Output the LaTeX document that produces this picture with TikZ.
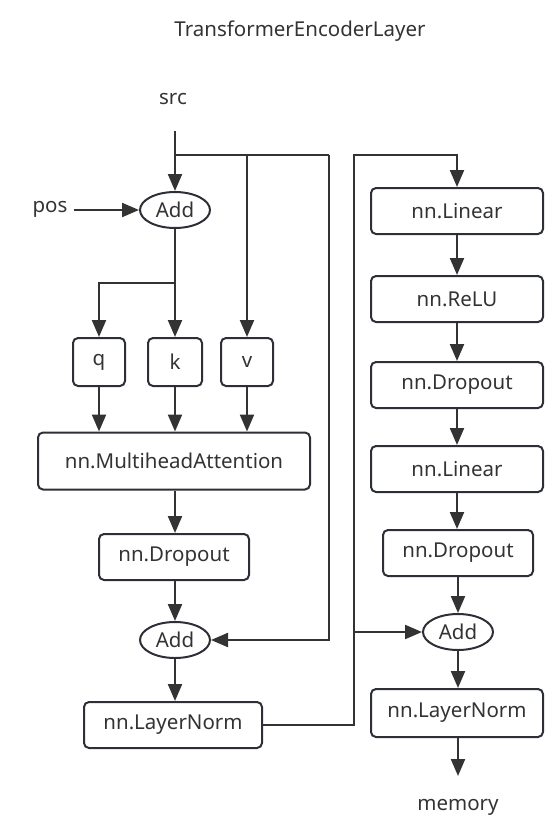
\documentclass[tikz,border=0pt]{standalone}
\usepackage{fontspec}
\setmainfont{Noto Sans}
\usetikzlibrary{arrows.meta,shapes.geometric}
\definecolor{lc}{HTML}{333333}
\definecolor{bc}{HTML}{2C3036}
\begin{document}
\begin{tikzpicture}[x=1pt,y=-1pt,
  txt/.style={text=lc,font=\fontsize{20.5}{23}\selectfont,inner sep=0},
  box/.style={txt,draw=bc,line width=2pt,rounded corners=5pt,minimum width=#1,minimum height=46pt},
  ell/.style={txt,draw=bc,line width=2pt,ellipse,minimum width=70pt,minimum height=36pt},
  arr/.style={draw=lc,line width=2.2pt,-{Triangle[length=17pt,width=14pt]}},
  ln/.style={draw=lc,line width=2.2pt}]
\useasboundingbox (0,0) rectangle (559,828);
% labels
\node[txt] (title) at (300,31) {TransformerEncoderLayer};
\node[txt] (src) at (173,99) {src};
\node[txt] (pos) at (50,209) {pos};
\node[txt] (mem) at (458,807) {memory};
% left column
\node[ell] (add1) at (175,210) {Add};
\node[box=52pt,minimum height=48pt] (q) at (99,362) {q};
\node[box=54pt,minimum height=48pt] (k) at (175,362) {k};
\node[box=52pt,minimum height=48pt] (v) at (247,362) {v};
\node[box=272pt,minimum height=57pt] (mha) at (174,461) {nn.MultiheadAttention};
\node[box=150pt] (do1) at (174,557) {nn.Dropout};
\node[ell] (add2) at (175,640) {Add};
\node[box=178pt] (ln1) at (173,725) {nn.LayerNorm};
% right column
\node[box=172pt] (lin1) at (457,211) {nn.Linear};
\node[box=172pt] (relu) at (457,299) {nn.ReLU};
\node[box=172pt] (do2) at (457,385) {nn.Dropout};
\node[box=172pt] (lin2) at (457,469) {nn.Linear};
\node[box=150pt] (do3) at (458,553) {nn.Dropout};
\node[ell] (add3) at (458,632) {Add};
\node[box=172pt,minimum height=48pt] (ln2) at (457,713) {nn.LayerNorm};
% coordinates
\coordinate (s0) at (175,131);
\coordinate (s1) at (175,155);
\coordinate (s2) at (329,155);
\coordinate (br) at (175,283);
\coordinate (j1) at (354,725);
\coordinate (j2) at (354,155);
\coordinate (j3) at (354,632);
\coordinate (mend) at (458,776);
% connectors
\draw[arr] (s0) -- (add1.north);
\draw[ln] (s1) -- (s2);
\draw[arr] (v.north |- s1) -- (v.north);
\draw[arr] (s2) |- (add2.east);
\draw[arr,shorten <=6pt] (pos.east |- add1.west) -- (add1.west);
\draw[ln] (add1.south) -- (br);
\draw[arr] (br) -| (q.north);
\draw[arr] (br) -- (k.north);
\draw[arr] (q.south) -- (q.south |- mha.north);
\draw[arr] (k.south) -- (k.south |- mha.north);
\draw[arr] (v.south) -- (v.south |- mha.north);
\draw[arr] (mha.south -| add2) -- (add2 |- do1.north);
\draw[arr] (do1.south -| add2) -- (add2.north);
\draw[arr] (add2.south) -- (add2.south |- ln1.north);
\draw[arr] (ln1.east) -- (j1) -- (j2) -| (lin1.north);
\draw[arr] (j3) -- (add3.west);
\draw[arr] (lin1.south) -- (relu.north);
\draw[arr] (relu.south) -- (do2.north);
\draw[arr] (do2.south) -- (lin2.north);
\draw[arr] (lin2.south) -- (lin2.south |- do3.north);
\draw[arr] (do3.south -| add3) -- (add3.north);
\draw[arr] (add3.south) -- (add3.south |- ln2.north);
\draw[arr] (ln2.south -| mend) -- (mend);
\end{tikzpicture}
\end{document}
